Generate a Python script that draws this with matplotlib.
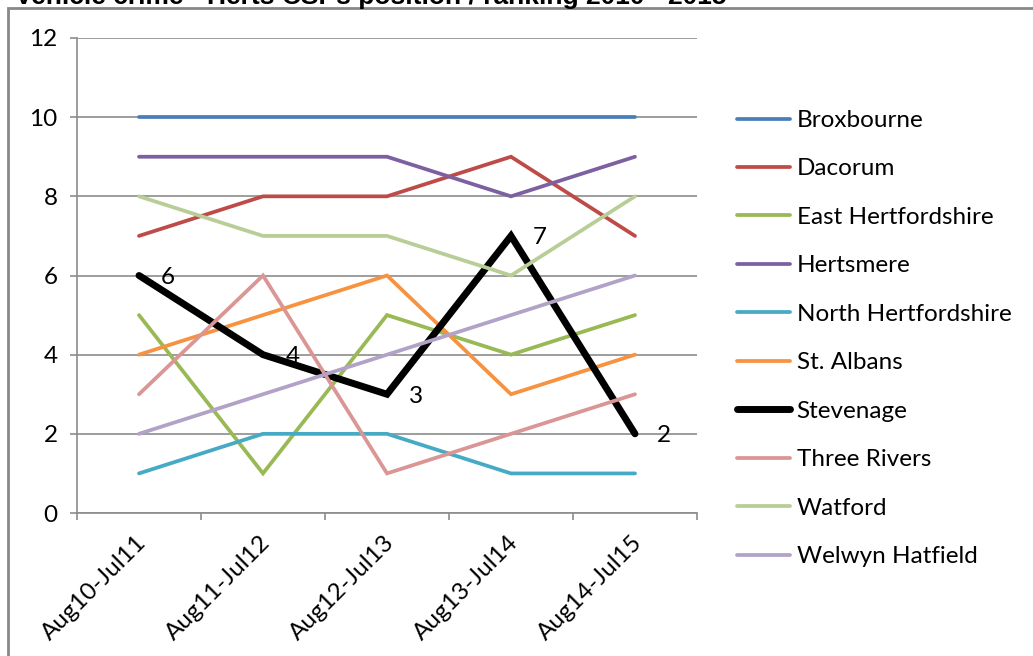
import matplotlib.pyplot as plt
from matplotlib.patches import Rectangle
from matplotlib.transforms import ScaledTranslation

periods = ["Aug10-Jul11", "Aug11-Jul12", "Aug12-Jul13", "Aug13-Jul14", "Aug14-Jul15"]

broxbourne = [10, 10, 10, 10, 10]
dacorum = [7, 8, 8, 9, 7]
east_herts = [5, 1, 5, 4, 5]
hertsmere = [9, 9, 9, 8, 9]
north_herts = [1, 2, 2, 1, 1]
st_albans = [4, 5, 6, 3, 4]
stevenage = [6, 4, 3, 7, 2]
three_rivers = [3, 6, 1, 2, 3]
watford = [8, 7, 7, 6, 8]
welwyn_hatfield = [2, 3, 4, 5, 6]

series = [
    ("Broxbourne", broxbourne, "#4A7EBB"),
    ("Dacorum", dacorum, "#BE4B48"),
    ("East Hertfordshire", east_herts, "#98B954"),
    ("Hertsmere", hertsmere, "#7D60A0"),
    ("North Hertfordshire", north_herts, "#46AAC5"),
    ("St. Albans", st_albans, "#F69240"),
    ("Stevenage", stevenage, "#000000"),
    ("Three Rivers", three_rivers, "#D99694"),
    ("Watford", watford, "#B9CD96"),
    ("Welwyn Hatfield", welwyn_hatfield, "#B3A2C7"),
]

plt.rcParams['font.family'] = ['Lato', 'DejaVu Sans']
fs = 17.5

fig = plt.figure(figsize=(10.33, 6.56), dpi=100)
ax = fig.add_axes([77 / 1033, 1 - 513 / 656, 620 / 1033, 475 / 656])

x = list(range(len(periods)))
for name, vals, col in series:
    lw = 5.0 if name == "Stevenage" else 2.7
    ax.plot(x, vals, color=col, lw=lw, label=name, solid_capstyle='round',
            solid_joinstyle='miter', zorder=3)

# data labels on Stevenage
for xi, v in zip(x, stevenage):
    ax.annotate(str(v), (xi, v), xytext=(16, -1.5), textcoords='offset points',
                ha='left', va='center', fontsize=fs, zorder=4)

ax.set_xlim(-0.5, len(periods) - 0.5)
ax.set_ylim(0, 12)
ax.set_yticks(range(0, 13, 2))
ax.yaxis.grid(True, color='#8C8C8C', lw=1.2)
ax.set_axisbelow(True)
for s in ['top', 'right']:
    ax.spines[s].set_visible(False)
for s in ['left', 'bottom']:
    ax.spines[s].set_color('#8C8C8C')
    ax.spines[s].set_linewidth(1.2)

ax.tick_params(axis='y', length=5, width=1.2, color='#8C8C8C', labelsize=fs, pad=9)
ax.set_xticks(x)
ax.set_xticklabels(periods, rotation=45, ha='right', va='center', rotation_mode='anchor')
ax.tick_params(axis='x', which='major', length=0, labelsize=fs, pad=0)
shift = ScaledTranslation(4 / 100, -26 / 100, fig.dpi_scale_trans)
for lbl in ax.get_xticklabels():
    lbl.set_transform(lbl.get_transform() + shift)
ax.set_xticks([i - 0.5 for i in range(len(periods) + 1)], minor=True)
ax.tick_params(axis='x', which='minor', length=5, width=1.2, color='#8C8C8C')

ax.legend(loc='upper left', bbox_to_anchor=(737 / 1033, 1 - 110 / 656),
          bbox_transform=fig.transFigure, frameon=False, fontsize=fs,
          handlelength=2.2, handletextpad=0.25, labelspacing=1.13, borderpad=0,
          borderaxespad=0)

# outer chart border, partly cut off
fig.patches.append(Rectangle((8 / 1033, -0.1), 1.2, 1 - 8 / 656 + 0.1,
                             transform=fig.transFigure, fill=False,
                             edgecolor='#888888', lw=2))

fig.text(15 / 1033, 1 - 4 / 656, "Vehicle crime - Herts CSPs position / ranking 2010 - 2015",
         fontsize=19, fontweight='bold', family='Liberation Sans', va='baseline')

fig.savefig("out.png", dpi=100)
